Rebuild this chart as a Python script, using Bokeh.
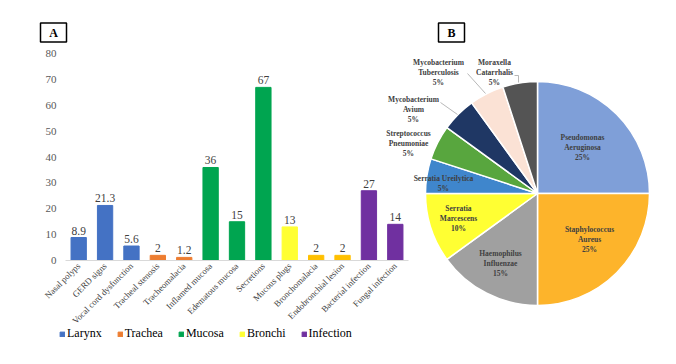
import math
from bokeh.plotting import figure
from bokeh.models import (ColumnDataSource, Range1d, FixedTicker, Legend, LegendItem)
from bokeh.core.properties import value
from bokeh.embed import file_html
from bokeh.resources import INLINE

# ---------------- data ----------------
categories = ["Nasal polyps", "GERD signs", "Vocal cord dysfunction", "Tracheal stenosis",
              "Tracheomalacia", "Inflamed mucosa", "Edematous mucosa", "Secretions",
              "Mucous plugs", "Bronchomalacia", "Endobronchial lesion", "Bacterial infection",
              "Fungal infection"]
bar_values = [8.9, 21.3, 5.6, 2, 1.2, 36, 15, 67, 13, 2, 2, 27, 14]
bar_groups = ["Larynx", "Larynx", "Larynx", "Trachea", "Trachea", "Mucosa", "Mucosa", "Mucosa",
              "Bronchi", "Bronchi", "Bronchi", "Infection", "Infection"]
bar_colors = ["#4472C4", "#4472C4", "#4472C4", "#ED7D31", "#ED7D31", "#00A550", "#00A550",
              "#00A550", "#FFFF33", "#FFC000", "#FFC000", "#7030A0", "#7030A0"]
legend_groups = ["Larynx", "Trachea", "Mucosa", "Bronchi", "Infection"]
y_ticks = [0, 10, 20, 30, 40, 50, 60, 70, 80]

pie_labels = ["Pseudomonas\nAeruginosa\n25%", "Staphylococcus\nAureus\n25%",
              "Haemophilus\nInfluenzae\n15%", "Serratia\nMarcescens\n10%",
              "Serratia Ureilytica\n5%", "Streptococcus\nPneumoniae\n5%",
              "Mycobacterium\nAvium\n5%", "Mycobacterium\nTuberculosis\n5%",
              "Moraxella\nCatarrhalis\n5%"]
pie_values = [25, 25, 15, 10, 5, 5, 5, 5, 5]
pie_colors = ["#7F9FD8", "#FDB42B", "#A0A0A0", "#FFFF33", "#3F86CC", "#58A63E",
              "#1F3764", "#FBE2D5", "#545454"]

FONT = "Liberation Serif"
W, H = 676, 364

# One canvas: bar chart on the main (slot, value) ranges, pie on a pixel range.
# slot axis: 13 slots spanning px 65..408 ; value axis: 0..80 spanning px 260..53 (from top)
slot_px = (408 - 65) / len(categories)
val_px = (260 - 53.3) / 80
p = figure(width=W, height=H, output_backend="svg", toolbar_location=None,
           x_range=Range1d(-65 / slot_px, (W - 65) / slot_px),
           y_range=Range1d(-(H - 260) / val_px, 260 / val_px),
           min_border=0)
p.extra_x_ranges = {"px": Range1d(0, W)}
p.extra_y_ranges = {"px": Range1d(0, H)}
p.outline_line_color = None
p.grid.grid_line_color = None

# ---------------- panel A: bar chart ----------------
pos = [i + 0.5 for i in range(len(categories))]
src = ColumnDataSource(dict(x=pos, val=bar_values, col=bar_colors,
                            txt=[f"{v:g}" for v in bar_values]))
bars = p.vbar(x="x", top="val", width=0.58, color="col", source=src)
p.text(x="x", y="val", text="txt", source=src, y_offset=-3,
       text_align="center", text_baseline="bottom", text_font=value(FONT),
       text_font_size="11.5px", text_color="#404040")

yax = p.yaxis[0]
yax.fixed_location = 0
yax.ticker = FixedTicker(ticks=y_ticks)
yax.axis_line_color = None
yax.major_tick_line_color = None
yax.minor_tick_line_color = None
yax.major_tick_out = 0
yax.major_tick_in = 0
yax.major_label_text_font = FONT
yax.major_label_text_font_size = "11px"
yax.major_label_text_color = "#595959"
yax.major_label_standoff = 9

xax = p.xaxis[0]
xax.fixed_location = 0
xax.bounds = (0, len(categories))
xax.ticker = FixedTicker(ticks=pos)
xax.major_label_overrides = {x: c for x, c in zip(pos, categories)}
xax.axis_line_color = "#D9D9D9"
xax.major_tick_line_color = None
xax.minor_tick_line_color = None
xax.major_tick_out = 0
xax.major_tick_in = 0
xax.major_label_orientation = math.pi / 4
xax.major_label_text_font = FONT
xax.major_label_text_font_size = "8.8px"
xax.major_label_text_color = "#404040"
xax.major_label_standoff = 4

items = [LegendItem(label=g, renderers=[bars], index=bar_groups.index(g)) for g in legend_groups]
legend = Legend(items=items, orientation="horizontal", location=(59, 23),
                label_text_font=FONT, label_text_font_size="12px", label_text_color="#000000",
                glyph_width=6, glyph_height=6, label_standoff=2, spacing=15, label_height=14,
                padding=0, margin=0, border_line_color=None, background_fill_alpha=0)
p.add_layout(legend)

# panel tags (boxed letters), in pixel coordinates
tag_x, tag_y, tag_txt = [53, 451], [332, 332], ["A", "B"]
p.rect(x=tag_x, y=tag_y, width=26, height=19, fill_color=None, line_color="black",
       line_width=1.5, x_range_name="px", y_range_name="px")
p.text(x=tag_x, y=tag_y, text=tag_txt, text_align="center", text_baseline="middle",
       text_font=value(FONT), text_font_size="12px", text_font_style="bold",
       text_color="black", x_range_name="px", y_range_name="px")

# ---------------- panel B: pie chart ----------------
cx, cy, R = 537, 171, 112
total = sum(pie_values)
starts, ends = [], []
cum = 0
for v in pie_values:
    starts.append(math.pi / 2 - 2 * math.pi * cum / total)
    cum += v
    ends.append(math.pi / 2 - 2 * math.pi * cum / total)
p.wedge(x=cx, y=cy, radius=R, start_angle=starts, end_angle=ends, direction="clock",
        fill_color=pie_colors, line_color="white", line_width=1.5,
        x_range_name="px", y_range_name="px")

label_offsets = [(45, 46), (52, -46), (-37, -70), (-79, -25), (-94, 10),
                 (-129, 50), (-124, 84), (-99, 121), (-43, 121)]
p.text(x=[cx + dx for dx, dy in label_offsets], y=[cy + dy for dx, dy in label_offsets],
       text=pie_labels, text_align="center", text_baseline="middle",
       text_font=value(FONT), text_font_size="7.5px", text_font_style="bold",
       text_color="#404040", text_line_height=1.1,
       x_range_name="px", y_range_name="px")

leaders = [[(-97, 91), (-80, 79)], [(-70, 120), (-52, 100)],
           [(-23, 118), (-19, 118), (-19, 111)]]
for seg in leaders:
    p.line(x=[cx + a for a, b in seg], y=[cy + b for a, b in seg],
           line_color="#A6A6A6", line_width=0.8, x_range_name="px", y_range_name="px")

open("out.html", "w").write(file_html(p, INLINE))
